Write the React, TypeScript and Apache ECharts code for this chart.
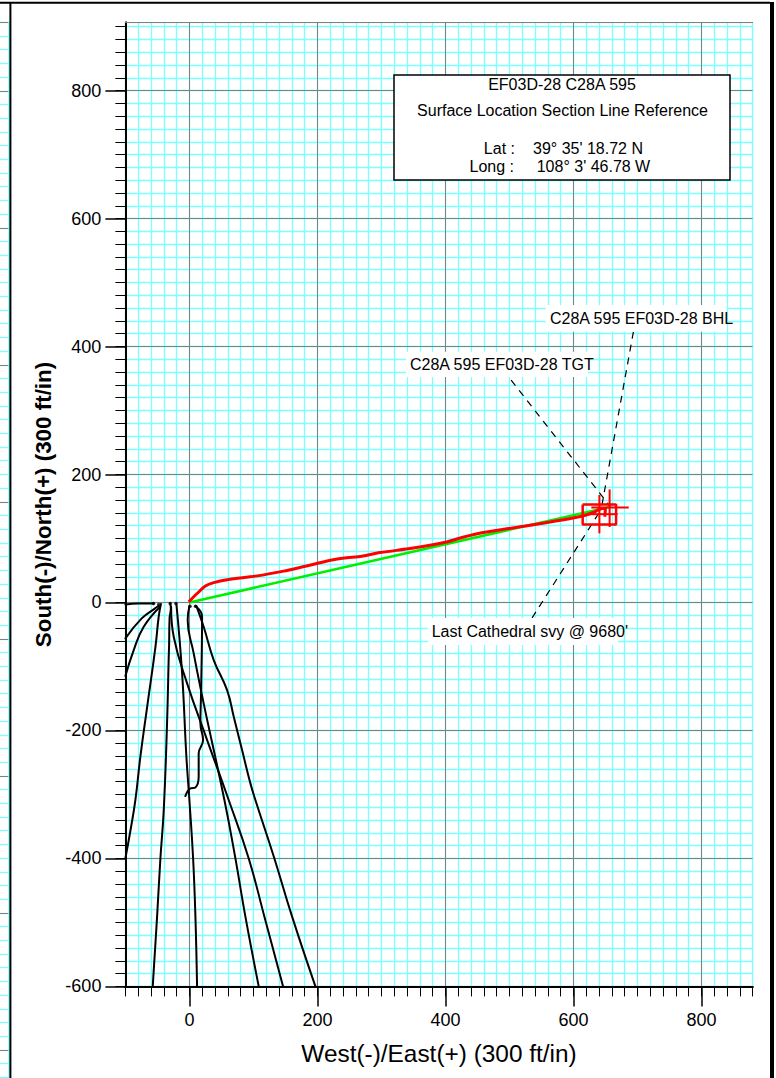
import React, { useEffect, useRef } from "react";
import * as echarts from "echarts";

type P = [number, number];

const majorXTicks = [0, 200, 400, 600, 800];
const labelXTicks = [0, 200, 400, 600, 800];
const majorYTicks = [-600, -400, -200, 0, 200, 400, 600, 800];
const stripMajorTicks = [-600, -400, -200, 0, 200, 400, 600, 800, 900];
const steps = (a: number, b: number, s: number) => {
  const out: number[] = [];
  for (let v = a; v <= b; v += s) out.push(v);
  return out;
};
const minorXTicks = steps(-100, 880, 20);
const minorYTicks = steps(-600, 900, 20);
const stripMinorTicks = steps(-640, 900, 20);

const plannedPath: P[] = [[0, 0], [657.8, 149.5]];
const actualPath: P[] = [
  [-1, 1], [12, 14], [25, 25.6], [38, 31], [59, 35.6], [106, 41.6], [147, 49], [174, 55], [202, 61.6],
  [231, 68], [267, 72], [298, 78], [350, 85], [402, 94.5], [423, 100.8], [455, 108.6], [507, 116.8],
  [559, 125], [611, 134.4], [632, 141], [645, 147], [650, 146], [649, 134],
];
const wellA: P[] = [[-100, -3], [-80, -1.5], [-56, -1.5]];
const wellB: P[] = [[-48, -5], [-53.6, -9.2], [-74.5, -24.8], [-100, -56]];
const wellC: P[] = [[-45.8, -6.7], [-71.4, -38], [-87, -74.4], [-100, -115]];
const wellD: P[] = [[-44.5, -2.5], [-48, -22.3], [-53, -69], [-66, -163], [-76.6, -241], [-84.4, -308.7], [-92, -355.6], [-100, -400]];
const wellE: P[] = [[-30, -2], [-29, -9], [-31, -25], [-31.7, -66], [-32.3, -85], [-34.9, -188], [-40, -323], [-45.3, -400], [-50.5, -491], [-57.3, -600]];
const wellF: P[] = [[-20.3, -2.5], [-11.4, -110.8], [-4.7, -241], [0, -308.7], [5.8, -400], [9.4, -491], [12, -600]];
const wellG: P[] = [[-28.6, -6.7], [-24.5, -53.6], [-3.6, -126.4], [27.7, -215], [61.4, -308.7], [92.7, -400], [117.2, -491], [146.4, -600]];
const wellH: P[] = [[0, -5.6], [-2.7, -27.5], [6.7, -79.5], [22.3, -157.7], [54.7, -308.7], [71.9, -400], [87.5, -491], [108.3, -600]];
const wellI: P[] = [[9.4, -5.6], [19.8, -22.3], [18.3, -137], [17.2, -189], [21.4, -215], [14.5, -236], [14.5, -272], [9.4, -289], [1.6, -290.5], [-6.3, -302.5]];
const wellJ: P[] = [[11, -5.6], [22.3, -38], [38, -90], [58.9, -137], [69.3, -178.6], [82.3, -230.6], [95.3, -282.7], [103.1, -308.7], [132.8, -400], [160.5, -491], [196.9, -600]];
const offsetWells = [wellA, wellB, wellC, wellD, wellE, wellF, wellG, wellH, wellI, wellJ];
const wellHeads: P[] = [[-56, -1.5], [-48, -3], [-30, -1.5], [-21, -1.5], [1, -6], [9.5, -6]];

const targetBox: P[] = [[614.5, 153.3], [666.7, 153.3], [666.7, 122], [614.5, 122], [614.5, 153.3]];
const crossV1: P[] = [[640.6, 168], [640.6, 108]];
const crossV2: P[] = [[656.6, 176.7], [656.6, 118]];
const crossH1: P[] = [[628, 148.3], [686.4, 148.3]];
const crossH2: P[] = [[622, 138], [669, 138]];
const crosses = [crossV1, crossV2, crossH1, crossH2];

const leaderBHL: P[] = [[693.75, 423], [643.75, 147.5]];
const leaderTGT: P[] = [[502.7, 347.5], [657.8, 149.5]];
const leaderLast: P[] = [[535.5, -24], [644.8, 147.5]];
const leaders = [leaderBHL, leaderTGT, leaderLast];

const FONT = "Liberation Sans";
const CYAN = "#7dffff";

function axisPair(kind: "x" | "y") {
  const isX = kind === "x";
  const range = isX ? { min: -100, max: 880 } : { min: -600, max: 906.25 };
  const position = isX ? "bottom" : "left";
  return [
    {
      type: "value", gridIndex: 0, position, ...range, z: 1,
      axisLine: { show: true, onZero: false, lineStyle: { color: "#000", width: 2 } },
      axisTick: { show: true, length: 10, customValues: isX ? minorXTicks : minorYTicks, lineStyle: { color: "#000", width: 1 } },
      axisLabel: { show: false },
      splitLine: { show: true, lineStyle: { color: CYAN, width: 1.3 } },
    },
    {
      type: "value", gridIndex: 0, position, ...range, z: 2,
      name: isX ? "West(-)/East(+) (300 ft/in)" : "South(-)/North(+) (300 ft/in)",
      nameLocation: "middle",
      nameGap: isX ? 55.5 : 61,
      nameRotate: isX ? 0 : 90,
      nameTextStyle: isX
        ? { fontFamily: FONT, fontSize: 24.4, color: "#000" }
        : { fontFamily: FONT, fontSize: 22.4, fontWeight: "bold", color: "#000" },
      axisLine: { show: true, onZero: false, lineStyle: { color: "#000", width: 2 } },
      axisTick: { show: true, length: 20, customValues: isX ? majorXTicks : majorYTicks, lineStyle: { color: "#000", width: 1.5 } },
      axisLabel: {
        show: true, margin: isX ? 25 : 24, fontFamily: FONT, fontSize: 18, color: "#000",
        customValues: isX ? labelXTicks : majorYTicks,
      },
      splitLine: { show: true, lineStyle: { color: "#808080", width: 1 } },
    },
  ];
}

const textEl = (x: number, y: number, text: string, align = "center", fontSize = 16) => ({
  type: "text", x, y, z: 21,
  style: { text, x: 0, y: 0, align, verticalAlign: "middle", fontFamily: FONT, fontSize, fill: "#000" },
});
const whiteRect = (x: number, y: number, w: number, h: number) => ({
  type: "rect", z: 20, shape: { x, y, width: w, height: h }, style: { fill: "#fff" },
});
const frame = (x1: number, y1: number, x2: number, y2: number, stroke: string, lineWidth: number) => ({
  type: "line", z: 30, shape: { x1, y1, x2, y2 }, style: { stroke, lineWidth },
});

export default function App() {
  const ref = useRef<HTMLDivElement>(null);
  useEffect(() => {
    document.body.style.margin = "0";
    const chart = echarts.init(ref.current!, undefined, { renderer: "svg" });
    const line = (data: P[], color: string, width: number, extra: any = {}) => ({
      type: "line", data, xAxisIndex: 0, yAxisIndex: 0, showSymbol: false, symbol: "none",
      silent: true, lineStyle: { color, width, ...extra }, clip: true,
    });
    chart.setOption({
      animation: false,
      backgroundColor: "#fff",
      textStyle: { fontFamily: FONT },
      grid: [
        { left: 125.4, top: 22.6, width: 627.2, height: 963.8, show: true, backgroundColor: "#fff", borderColor: "#b8b8b8", borderWidth: 1, outerBoundsMode: "none" },
        { left: 0, top: 22.3, width: 9.3, height: 1055, outerBoundsMode: "none" },
      ],
      xAxis: [
        ...axisPair("x"),
        { type: "value", gridIndex: 1, show: false, min: 0, max: 1, splitLine: { show: false } },
        { type: "value", gridIndex: 1, show: false, min: 0, max: 1, splitLine: { show: false } },
      ],
      yAxis: [
        ...axisPair("y"),
        {
          type: "value", gridIndex: 1, min: -640, max: 900, axisLine: { show: false }, axisLabel: { show: false },
          axisTick: { show: false, customValues: stripMinorTicks },
          splitLine: { show: true, lineStyle: { color: CYAN, width: 1.3 } },
        },
        {
          type: "value", gridIndex: 1, min: -640, max: 900, axisLine: { show: false }, axisLabel: { show: false },
          axisTick: { show: false, customValues: stripMajorTicks },
          splitLine: { show: true, lineStyle: { color: "#808080", width: 1 } },
        },
      ],
      graphic: { elements: [
        frame(125, 22.5, 753, 22.5, "#808080", 1),
        frame(9, 22, 9, 1078, CYAN, 1.5),
        frame(0, 2.7, 770, 2.7, "#000", 2),
        frame(10.4, 3, 10.4, 1078, "#000", 2),
        frame(772, 2, 772, 1078, "#000", 4),

        { type: "rect", z: 20, shape: { x: 394, y: 75, width: 336, height: 105 }, style: { fill: "#fff", stroke: "#000", lineWidth: 1.5 } },
        textEl(562, 84, "EF03D-28 C28A 595"),
        textEl(562.5, 110.7, "Surface Location Section Line Reference"),
        textEl(515, 148.7, "Lat :", "right"),
        textEl(533, 148.7, "39° 35' 18.72 N", "left"),
        textEl(514, 166, "Long :", "right"),
        textEl(536.7, 166, "108° 3' 46.78 W", "left"),

        whiteRect(545.7, 305, 181, 26.7),
        textEl(550, 318, "C28A 595 EF03D-28 BHL", "left"),
        whiteRect(406, 351.7, 182, 25.3),
        textEl(410, 364, "C28A 595 EF03D-28 TGT", "left"),
        whiteRect(428, 618, 190, 27),
        textEl(431.7, 631.7, "Last Cathedral svy @ 9680'", "left"),
      ] },
      series: [
        ...leaders.map((d) => line(d, "#000", 1.2, { type: [7, 6] })),
        ...offsetWells.map((d) => ({ ...line(d, "#000", 2), smooth: 0.45, lineStyle: { color: "#000", width: 2, cap: "round" } })),
        {
          type: "scatter", data: wellHeads, xAxisIndex: 0, yAxisIndex: 0, symbol: "circle", symbolSize: 3.5,
          silent: true, itemStyle: { color: "#000" },
        },
        line(plannedPath, "#00ee00", 2.5),
        line(targetBox, "#ff0000", 2.5),
        ...crosses.map((d) => line(d, "#ff0000", 2)),
        { ...line(actualPath, "#ff0000", 3), smooth: 0.35 },
      ],
    });
    return () => chart.dispose();
  }, []);
  return <div ref={ref} style={{ position: "absolute", left: 0, top: 0, width: 776, height: 1078 }} />;
}
